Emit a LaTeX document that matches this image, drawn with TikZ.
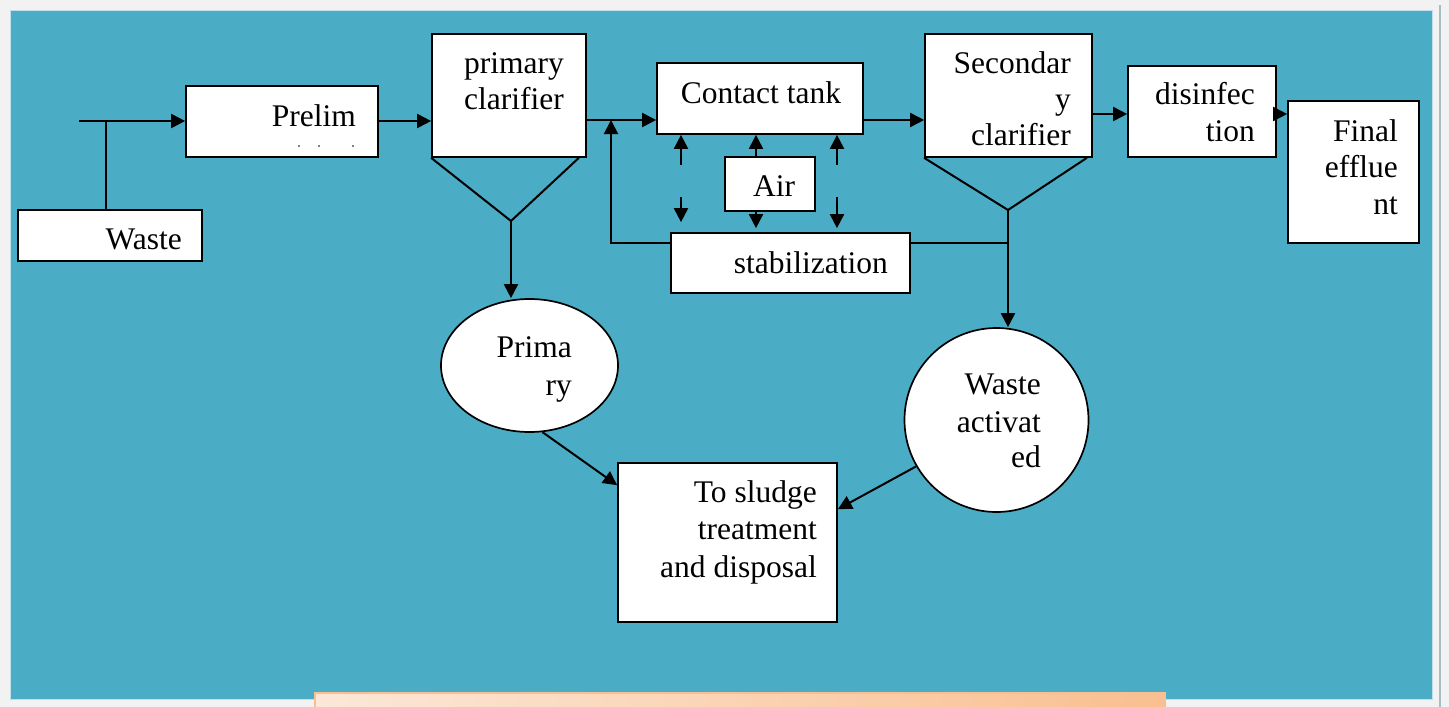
\documentclass[tikz,border=0pt]{standalone}
\usepackage{fontspec}
\setmainfont{Liberation Serif}
\usetikzlibrary{arrows.meta,calc,shapes.geometric}
\definecolor{bgray}{HTML}{F2F2F2}
\definecolor{panel}{HTML}{4BACC6}
\definecolor{paneledge}{HTML}{BFE0EA}
\definecolor{sidebar}{HTML}{A9BCC6}
\definecolor{peachA}{HTML}{FCE7D8}
\definecolor{peachB}{HTML}{F9BF90}
\begin{document}
\begin{tikzpicture}[x=1pt,y=-1pt,
  box/.style={draw=black,fill=white,line width=1.7pt,inner sep=0pt,rectangle},
  oval/.style={draw=black,fill=white,line width=1.7pt,inner sep=0pt,ellipse},
  lbl/.style={font=\fontsize{31.5}{37}\selectfont,inner sep=0pt,anchor=base east},
  conn/.style={line width=2pt,-{Triangle[length=14pt,width=14pt]}},
  plain/.style={line width=2pt}]
\useasboundingbox (0,0) rectangle (1449,707);
% background
\fill[bgray] (0,0) rectangle (1449,707);
\fill[panel,draw=paneledge,line width=1pt] (10,10) rectangle (1432,699);
\draw[sidebar,line width=2pt] (1440,5) -- (1440,707);
\shade[left color=peachA,right color=peachB,draw=peachB,line width=1.5pt] (315,693) rectangle (1165,710);

% boxes
\node[box,minimum width=184pt,minimum height=51pt] (waste) at (110,235.5) {};
\node[box,minimum width=192pt,minimum height=71pt] (prelim) at (282,121.5) {};
\node[box,minimum width=154pt,minimum height=123pt] (primary) at (509,95.5) {};
\node[box,minimum width=206pt,minimum height=71pt] (contact) at (760,98.5) {};
\node[box,minimum width=90pt,minimum height=54pt] (air) at (770,184) {};
\node[box,minimum width=239pt,minimum height=60pt] (stab) at (790.5,263) {};
\node[box,minimum width=167pt,minimum height=123pt] (secondary) at (1008.5,95.5) {};
\node[box,minimum width=148pt,minimum height=91pt] (disinf) at (1202,111.5) {};
\node[box,minimum width=131pt,minimum height=142pt] (final) at (1353.5,172) {};
\node[box,minimum width=219pt,minimum height=159pt] (sludge) at (727.5,542.5) {};
\node[oval,minimum width=177pt,minimum height=133pt] (pell) at (529.5,365.5) {};
\node[oval,circle,minimum size=184pt] (wact) at (996.5,420) {};

% labels
\node[lbl] (tw) at (182,249) {Waste};
\node[lbl] (tp) at (356,126) {Prelim};
\fill (299,146) circle (0.8pt) (319,146) circle (0.8pt) (353,146) circle (0.8pt);
\node[lbl,anchor=base] (tpc1) at (514,73) {primary};
\node[lbl,anchor=base] (tpc2) at (514,109) {clarifier};
\node[lbl,anchor=base] (tct) at (761,103) {Contact tank};
\node[lbl,anchor=base] (tair) at (774,196) {Air};
\node[lbl] (tst) at (888,273) {stabilization};
\node[lbl] (tsc1) at (1071,73) {Secondar};
\node[lbl] (tsc2) at (1071,109) {y};
\node[lbl] (tsc3) at (1071,145) {clarifier};
\node[lbl] (td1) at (1255,104) {disinfec};
\node[lbl] (td2) at (1255,141) {tion};
\node[lbl] (tf1) at (1398,141) {Final};
\node[lbl] (tf2) at (1398,177) {efflue};
\node[lbl] (tf3) at (1398,214) {nt};
\node[lbl] (tpr1) at (572,357) {Prima};
\node[lbl] (tpr2) at (572,395) {ry};
\node[lbl] (ts1) at (817,502) {To sludge};
\node[lbl] (ts2) at (817,539) {treatment};
\node[lbl] (ts3) at (817,577) {and disposal};
\node[lbl] (twa1) at (1041,394) {Waste};
\node[lbl] (twa2) at (1041,432) {activat};
\node[lbl] (twa3) at (1041,467) {ed};

% helper coordinates
\coordinate (in) at (79,121);
\coordinate (j1) at (106,121);
\coordinate (y120) at (0,120);
\coordinate (y114) at (0,114);
\coordinate (pa) at (511,221);
\coordinate (sa) at (1008,210);
\coordinate (fb) at (611,243);
\coordinate (sj) at (1008,243);
\coordinate (xl) at (681,0);
\coordinate (xm) at (756,0);
\coordinate (xr) at (837,0);
\coordinate (lo) at (0,165);
\coordinate (hi) at (0,197);

% connectors
\draw[conn] (in) -- (in -| prelim.west);
\draw[plain] (j1) -- (j1 |- waste.north);
\draw[conn] (prelim.east |- in) -- (primary.west |- in);
\draw[plain,line join=miter] (primary.south west) -- (pa) -- ($(primary.south east)+(-8,0)$);
\draw[conn] (pa) -- (pa |- pell.north);
\draw[conn] (primary.east |- y120) -- (contact.west |- y120);
\draw[conn] (stab.west |- fb) -- (fb) -- (fb |- y120);
\draw[conn] (contact.east |- y120) -- (secondary.west |- y120);
\draw[plain,line join=miter] (secondary.south west) -- (sa) -- ($(secondary.south east)+(-6,0)$);
\draw[conn] (sa) -- (sa |- wact.north);
\draw[plain] (stab.east |- sj) -- (sj);
\draw[conn] (secondary.east |- y114) -- (disinf.west |- y114);
\draw[conn] (disinf.east |- y114) -- (final.west |- y114);
% air arrows
\draw[conn] (xm |- air.north) -- (xm |- contact.south);
\draw[conn,shorten >=4pt] (xm |- air.south) -- (xm |- stab.north);
\draw[conn] (xl |- lo) -- (xl |- contact.south);
\draw[conn,shorten >=10pt] (xl |- hi) -- (xl |- stab.north);
\draw[conn] (xr |- lo) -- (xr |- contact.south);
\draw[conn,shorten >=4pt] (xr |- hi) -- (xr |- stab.north);
% sludge arrows
\draw[conn] (pell.-79) -- ($(sludge.north west)+(0,23)$);
\draw[conn] (wact.210) -- ($(sludge.north east)+(0,47)$);
\end{tikzpicture}
\end{document}
